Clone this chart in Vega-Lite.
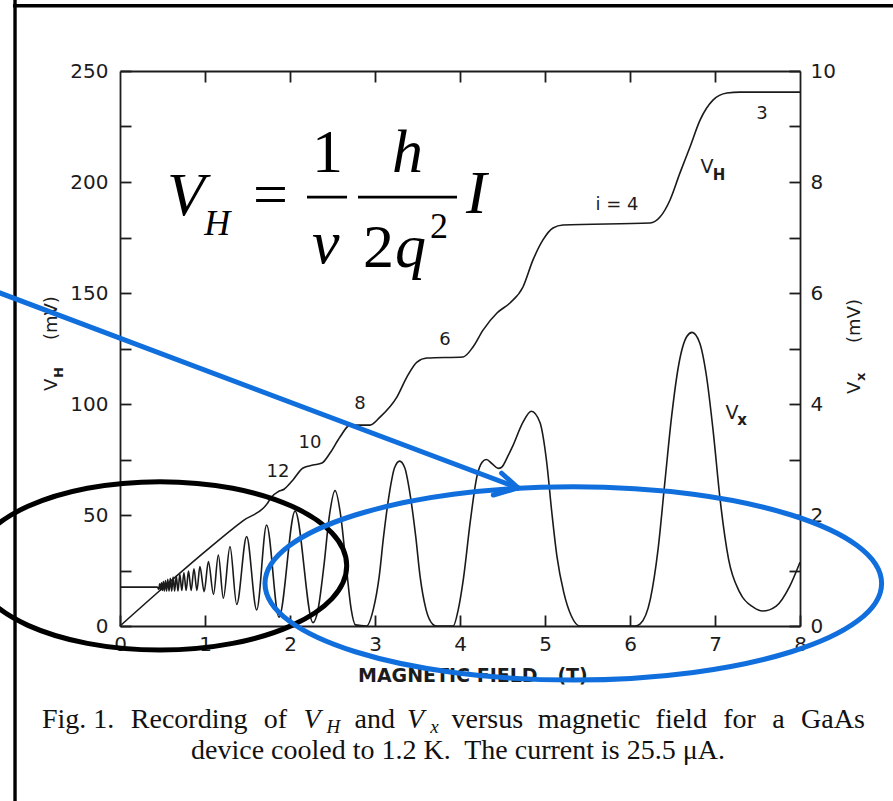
{
  "$schema": "https://vega.github.io/schema/vega-lite/v6.json",
  "width": 680,
  "height": 555,
  "autosize": {"type": "none"},
  "padding": {"left": 120, "top": 71, "right": 93, "bottom": 175},
  "background": "white",
  "config": {
    "view": {"stroke": null},
    "axis": {
      "grid": false,
      "domainColor": "#1c1c1c",
      "domainWidth": 1.8,
      "tickColor": "#1c1c1c",
      "tickWidth": 1.8,
      "tickSize": -11,
      "labelColor": "#1c1c1c",
      "labelFont": "DejaVu Sans",
      "labelFontSize": 20,
      "labelFlush": false,
      "labelOverlap": false,
      "labelBound": false
    }
  },
  "datasets": {
    "vh": [
      {"b": 0, "v": 0}, {"b": 0.5, "v": 17}, {"b": 1.0, "v": 33.5}, {"b": 1.45, "v": 47.5},
      {"b": 1.73, "v": 55}, {"b": 1.78, "v": 58}, {"b": 1.86, "v": 60.5}, {"b": 1.93, "v": 61.6},
      {"b": 2.035, "v": 65.8}, {"b": 2.153, "v": 71.2}, {"b": 2.271, "v": 72.5}, {"b": 2.376, "v": 73.4},
      {"b": 2.471, "v": 77.9}, {"b": 2.588, "v": 85.1}, {"b": 2.706, "v": 90.5}, {"b": 2.941, "v": 90.5},
      {"b": 3.059, "v": 94.1}, {"b": 3.259, "v": 103.2}, {"b": 3.376, "v": 112.2}, {"b": 3.494, "v": 118.9},
      {"b": 3.612, "v": 120.7}, {"b": 4.035, "v": 121.2}, {"b": 4.153, "v": 125.7}, {"b": 4.271, "v": 133.3},
      {"b": 4.435, "v": 141.0}, {"b": 4.588, "v": 145.5}, {"b": 4.741, "v": 152.7}, {"b": 4.859, "v": 164.9},
      {"b": 4.976, "v": 173.9}, {"b": 5.094, "v": 179.3}, {"b": 5.212, "v": 180.6}, {"b": 6.235, "v": 181.5},
      {"b": 6.353, "v": 184.2}, {"b": 6.471, "v": 191.9}, {"b": 6.588, "v": 204.1}, {"b": 6.706, "v": 215.8},
      {"b": 6.824, "v": 227.9}, {"b": 6.976, "v": 236.9}, {"b": 7.141, "v": 240.1}, {"b": 7.294, "v": 240.5},
      {"b": 8.0, "v": 240.5}
    ],
    "vx": [
      {"b": 0, "v": 0.70}, {"b": 0.3, "v": 0.70}, {"b": 0.44, "v": 0.70},
      {"b": 0.456, "v": 0.66}, {"b": 0.467, "v": 0.76}, {"b": 0.477, "v": 0.65}, {"b": 0.488, "v": 0.78},
      {"b": 0.499, "v": 0.64}, {"b": 0.51, "v": 0.80}, {"b": 0.522, "v": 0.63}, {"b": 0.535, "v": 0.82},
      {"b": 0.548, "v": 0.63}, {"b": 0.562, "v": 0.84}, {"b": 0.577, "v": 0.63}, {"b": 0.592, "v": 0.86},
      {"b": 0.608, "v": 0.63}, {"b": 0.625, "v": 0.88}, {"b": 0.643, "v": 0.63}, {"b": 0.662, "v": 0.90},
      {"b": 0.682, "v": 0.63}, {"b": 0.704, "v": 0.93}, {"b": 0.727, "v": 0.64}, {"b": 0.752, "v": 0.96},
      {"b": 0.778, "v": 0.64}, {"b": 0.806, "v": 0.99}, {"b": 0.837, "v": 0.64}, {"b": 0.87, "v": 1.03},
      {"b": 0.905, "v": 0.64}, {"b": 0.94, "v": 1.07}, {"b": 0.99, "v": 0.62}, {"b": 1.04, "v": 1.16},
      {"b": 1.1, "v": 0.57}, {"b": 1.157, "v": 1.28}, {"b": 1.216, "v": 0.50}, {"b": 1.294, "v": 1.43},
      {"b": 1.373, "v": 0.39}, {"b": 1.49, "v": 1.61}, {"b": 1.608, "v": 0.29}, {"b": 1.725, "v": 1.82},
      {"b": 1.87, "v": 0.16}, {"b": 2.06, "v": 2.07}, {"b": 2.27, "v": 0.06},
      {"b": 2.33, "v": 0.3}, {"b": 2.4, "v": 1.1}, {"b": 2.46, "v": 1.95}, {"b": 2.53, "v": 2.44},
      {"b": 2.6, "v": 1.95}, {"b": 2.66, "v": 1.1}, {"b": 2.72, "v": 0.3}, {"b": 2.77, "v": 0.02},
      {"b": 2.9, "v": 0.0}, {"b": 2.98, "v": 0.3}, {"b": 3.05, "v": 0.9}, {"b": 3.1, "v": 1.6},
      {"b": 3.17, "v": 2.4}, {"b": 3.23, "v": 2.85}, {"b": 3.29, "v": 2.97}, {"b": 3.35, "v": 2.85},
      {"b": 3.41, "v": 2.4}, {"b": 3.48, "v": 1.6}, {"b": 3.53, "v": 0.9}, {"b": 3.6, "v": 0.3},
      {"b": 3.68, "v": 0.03}, {"b": 3.72, "v": 0.0}, {"b": 3.92, "v": 0.0}, {"b": 3.98, "v": 0.3},
      {"b": 4.04, "v": 0.85}, {"b": 4.12, "v": 1.87}, {"b": 4.2, "v": 2.7}, {"b": 4.26, "v": 2.95},
      {"b": 4.31, "v": 3.0}, {"b": 4.38, "v": 2.92}, {"b": 4.45, "v": 2.84}, {"b": 4.49, "v": 2.86},
      {"b": 4.56, "v": 3.05}, {"b": 4.62, "v": 3.24}, {"b": 4.74, "v": 3.67}, {"b": 4.84, "v": 3.87},
      {"b": 4.94, "v": 3.67}, {"b": 5.02, "v": 2.95}, {"b": 5.08, "v": 2.05}, {"b": 5.14, "v": 1.26},
      {"b": 5.22, "v": 0.61}, {"b": 5.31, "v": 0.18}, {"b": 5.41, "v": 0.0}, {"b": 6.06, "v": 0.0},
      {"b": 6.12, "v": 0.04}, {"b": 6.24, "v": 0.49}, {"b": 6.33, "v": 1.38}, {"b": 6.41, "v": 2.59},
      {"b": 6.49, "v": 3.78}, {"b": 6.57, "v": 4.68}, {"b": 6.67, "v": 5.22}, {"b": 6.73, "v": 5.29},
      {"b": 6.82, "v": 5.1}, {"b": 6.9, "v": 4.5}, {"b": 6.98, "v": 3.49}, {"b": 7.06, "v": 2.28},
      {"b": 7.16, "v": 1.2}, {"b": 7.29, "v": 0.61}, {"b": 7.45, "v": 0.34}, {"b": 7.56, "v": 0.27},
      {"b": 7.72, "v": 0.36}, {"b": 7.88, "v": 0.72}, {"b": 8.0, "v": 1.15}
    ],
    "plateauLabels": [
      {"b": 1.859, "v": 69.4, "t": "12"},
      {"b": 2.235, "v": 82.4, "t": "10"},
      {"b": 2.824, "v": 100, "t": "8"},
      {"b": 3.824, "v": 128.8, "t": "6"},
      {"b": 5.847, "v": 189.6, "t": "i = 4"},
      {"b": 7.553, "v": 230.6, "t": "3"}
    ],
    "curveNames": [
      {"b": 6.906, "v": 206.8, "t": "V"},
      {"b": 7.2, "v": 95.9, "t": "V"}
    ],
    "curveNameSubs": [
      {"b": 7.047, "v": 203.2, "t": "H"},
      {"b": 7.318, "v": 92.8, "t": "x"}
    ],
    "yTitles": [
      {"b": -0.741, "v": 105.9, "t": "V"},
      {"b": -0.741, "v": 128.8, "t": "(mV)"},
      {"b": 8.706, "v": 104.5, "t": "V"},
      {"b": 8.706, "v": 127.5, "t": "(mV)"}
    ],
    "yTitleSubs": [
      {"b": -0.671, "v": 111.7, "t": "H"},
      {"b": 8.765, "v": 110.4, "t": "x"}
    ],
    "xTitle": [
      {"b": 2.8, "v": -25.2, "t": "MAGNETIC FIELD\u00a0\u00a0\u00a0(T)"}
    ],
    "eqItalic": [
      {"b": 0.553, "v": 185.1, "t": "V"},
      {"b": 2.259, "v": 163.5, "t": "ν"},
      {"b": 3.2, "v": 204.5, "t": "h"},
      {"b": 3.235, "v": 161.7, "t": "q"},
      {"b": 4.071, "v": 186.0, "t": "I"}
    ],
    "eqUpright": [
      {"b": 1.565, "v": 185.1, "t": "="},
      {"b": 2.259, "v": 204.5, "t": "1"},
      {"b": 2.859, "v": 161.7, "t": "2"}
    ],
    "eqSub": [{"b": 0.99, "v": 176.1, "t": "H"}],
    "eqSup": [{"b": 3.647, "v": 174.8, "t": "2"}],
    "eqBars": [
      {"b": 2.2, "b2": 2.671, "v": 193.2},
      {"b": 2.8, "b2": 3.965, "v": 193.2}
    ],
    "frame": [
      {"b": -1.235, "v": 284.2, "b2": -1.235, "v2": -81.1},
      {"b": -1.259, "v": 279.4, "b2": 9.2, "v2": 279.4}
    ],
    "arrow": [
      {"b": -1.765, "v": 155.1, "b2": 4.682, "v2": 62.2},
      {"b": 4.49, "v": 68.8, "b2": 4.682, "v2": 62.2},
      {"b": 4.392, "v": 59.0, "b2": 4.682, "v2": 62.2}
    ],
    "lowFieldRing": [{"b": 0.4706, "v": 27.1}],
    "highFieldRing": [{"b": 5.333, "v": 19.2}],
    "captionText": [
      {"b": -0.918, "v": -45.95, "t": "Fig. 1."},
      {"b": 0.127, "v": -45.95, "t": "Recording"},
      {"b": 1.691, "v": -45.95, "t": "of"},
      {"b": 2.76, "v": -45.95, "t": "and"},
      {"b": 3.9, "v": -45.95, "t": "versus"},
      {"b": 4.915, "v": -45.95, "t": "magnetic"},
      {"b": 6.301, "v": -45.95, "t": "field"},
      {"b": 7.096, "v": -45.95, "t": "for"},
      {"b": 7.673, "v": -45.95, "t": "a"},
      {"b": 8.012, "v": -45.95, "t": "GaAs"}
    ],
    "captionLine2": [
      {"b": 3.976, "v": -59.9, "t": "device cooled to 1.2 K.\u00a0 The current is 25.5 μA."}
    ],
    "captionItalic": [
      {"b": 2.158, "v": -45.95, "t": "V"},
      {"b": 3.375, "v": -45.95, "t": "V"}
    ],
    "captionSub": [
      {"b": 2.43, "v": -48.2, "t": "H"},
      {"b": 3.65, "v": -48.2, "t": "x"}
    ]
  },
  "resolve": {"scale": {"y": "independent"}, "axis": {"x": "independent"}},
  "layer": [
    {
      "data": {"name": "frame"},
      "mark": {"type": "rule", "color": "#000000", "strokeWidth": 3.4},
      "encoding": {
        "x": {"field": "b", "type": "quantitative", "scale": {"domain": [0, 8], "nice": false, "zero": false}, "axis": null},
        "x2": {"field": "b2"},
        "y": {"field": "v", "type": "quantitative", "scale": {"domain": [0, 250], "nice": false}, "axis": null},
        "y2": {"field": "v2"}
      }
    },
    {
      "data": {"name": "vh"},
      "mark": {"type": "line", "color": "#1a1a1a", "strokeWidth": 1.6, "interpolate": "monotone"},
      "encoding": {
        "x": {
          "field": "b", "type": "quantitative",
          "scale": {"domain": [0, 8], "nice": false, "zero": false},
          "axis": {"orient": "bottom", "values": [0, 1, 2, 3, 4, 5, 6, 7, 8], "title": null, "labelPadding": 19}
        },
        "y": {
          "field": "v", "type": "quantitative",
          "scale": {"domain": [0, 250], "nice": false},
          "axis": {
            "orient": "left",
            "values": [0, 25, 50, 75, 100, 125, 150, 175, 200, 225, 250],
            "labelExpr": "datum.value % 50 === 0 ? datum.label : ''",
            "title": null,
            "labelPadding": 23
          }
        }
      }
    },
    {
      "data": {"name": "vx"},
      "mark": {"type": "line", "color": "#1a1a1a", "strokeWidth": 1.6, "interpolate": "monotone"},
      "encoding": {
        "x": {
          "field": "b", "type": "quantitative",
          "scale": {"domain": [0, 8], "nice": false, "zero": false},
          "axis": {"orient": "top", "values": [1, 2, 3, 4, 5, 6, 7], "labels": false, "title": null}
        },
        "y": {
          "field": "v", "type": "quantitative",
          "scale": {"domain": [0, 10], "nice": false},
          "axis": {
            "orient": "right",
            "values": [0, 1, 2, 3, 4, 5, 6, 7, 8, 9, 10],
            "labelExpr": "datum.value % 2 === 0 ? datum.label : ''",
            "title": null,
            "labelPadding": 21
          }
        }
      }
    },
    {
      "data": {"name": "plateauLabels"},
      "mark": {"type": "text", "font": "DejaVu Sans", "fontSize": 18, "color": "#1c1c1c", "align": "center", "baseline": "middle"},
      "encoding": {
        "x": {"field": "b", "type": "quantitative", "scale": {"domain": [0, 8], "nice": false, "zero": false}, "axis": null},
        "y": {"field": "v", "type": "quantitative", "scale": {"domain": [0, 250], "nice": false}, "axis": null},
        "text": {"field": "t"}
      }
    },
    {
      "data": {"name": "curveNames"},
      "mark": {"type": "text", "font": "DejaVu Sans", "fontSize": 19, "color": "#1c1c1c", "align": "center", "baseline": "middle"},
      "encoding": {
        "x": {"field": "b", "type": "quantitative", "scale": {"domain": [0, 8], "nice": false, "zero": false}, "axis": null},
        "y": {"field": "v", "type": "quantitative", "scale": {"domain": [0, 250], "nice": false}, "axis": null},
        "text": {"field": "t"}
      }
    },
    {
      "data": {"name": "curveNameSubs"},
      "mark": {"type": "text", "font": "DejaVu Sans", "fontSize": 15, "fontWeight": "bold", "color": "#1c1c1c", "align": "center", "baseline": "middle"},
      "encoding": {
        "x": {"field": "b", "type": "quantitative", "scale": {"domain": [0, 8], "nice": false, "zero": false}, "axis": null},
        "y": {"field": "v", "type": "quantitative", "scale": {"domain": [0, 250], "nice": false}, "axis": null},
        "text": {"field": "t"}
      }
    },
    {
      "data": {"name": "yTitles"},
      "mark": {"type": "text", "font": "DejaVu Sans", "fontSize": 18, "color": "#1c1c1c", "align": "left", "baseline": "alphabetic", "angle": 270},
      "encoding": {
        "x": {"field": "b", "type": "quantitative", "scale": {"domain": [0, 8], "nice": false, "zero": false}, "axis": null},
        "y": {"field": "v", "type": "quantitative", "scale": {"domain": [0, 250], "nice": false}, "axis": null},
        "text": {"field": "t"}
      }
    },
    {
      "data": {"name": "yTitleSubs"},
      "mark": {"type": "text", "font": "DejaVu Sans", "fontSize": 13, "fontWeight": "bold", "color": "#1c1c1c", "align": "left", "baseline": "alphabetic", "angle": 270},
      "encoding": {
        "x": {"field": "b", "type": "quantitative", "scale": {"domain": [0, 8], "nice": false, "zero": false}, "axis": null},
        "y": {"field": "v", "type": "quantitative", "scale": {"domain": [0, 250], "nice": false}, "axis": null},
        "text": {"field": "t"}
      }
    },
    {
      "data": {"name": "xTitle"},
      "mark": {"type": "text", "font": "DejaVu Sans", "fontSize": 19, "fontWeight": "bold", "color": "#1c1c1c", "align": "left", "baseline": "alphabetic"},
      "encoding": {
        "x": {"field": "b", "type": "quantitative", "scale": {"domain": [0, 8], "nice": false, "zero": false}, "axis": null},
        "y": {"field": "v", "type": "quantitative", "scale": {"domain": [0, 250], "nice": false}, "axis": null},
        "text": {"field": "t"}
      }
    },
    {
      "data": {"name": "eqItalic"},
      "mark": {"type": "text", "font": "Liberation Serif", "fontSize": 62, "fontStyle": "italic", "color": "#000000", "align": "left", "baseline": "alphabetic"},
      "encoding": {
        "x": {"field": "b", "type": "quantitative", "scale": {"domain": [0, 8], "nice": false, "zero": false}, "axis": null},
        "y": {"field": "v", "type": "quantitative", "scale": {"domain": [0, 250], "nice": false}, "axis": null},
        "text": {"field": "t"}
      }
    },
    {
      "data": {"name": "eqUpright"},
      "mark": {"type": "text", "font": "Liberation Serif", "fontSize": 62, "color": "#000000", "align": "left", "baseline": "alphabetic"},
      "encoding": {
        "x": {"field": "b", "type": "quantitative", "scale": {"domain": [0, 8], "nice": false, "zero": false}, "axis": null},
        "y": {"field": "v", "type": "quantitative", "scale": {"domain": [0, 250], "nice": false}, "axis": null},
        "text": {"field": "t"}
      }
    },
    {
      "data": {"name": "eqSub"},
      "mark": {"type": "text", "font": "Liberation Serif", "fontSize": 36, "fontStyle": "italic", "color": "#000000", "align": "left", "baseline": "alphabetic"},
      "encoding": {
        "x": {"field": "b", "type": "quantitative", "scale": {"domain": [0, 8], "nice": false, "zero": false}, "axis": null},
        "y": {"field": "v", "type": "quantitative", "scale": {"domain": [0, 250], "nice": false}, "axis": null},
        "text": {"field": "t"}
      }
    },
    {
      "data": {"name": "eqSup"},
      "mark": {"type": "text", "font": "Liberation Serif", "fontSize": 36, "color": "#000000", "align": "left", "baseline": "alphabetic"},
      "encoding": {
        "x": {"field": "b", "type": "quantitative", "scale": {"domain": [0, 8], "nice": false, "zero": false}, "axis": null},
        "y": {"field": "v", "type": "quantitative", "scale": {"domain": [0, 250], "nice": false}, "axis": null},
        "text": {"field": "t"}
      }
    },
    {
      "data": {"name": "eqBars"},
      "mark": {"type": "rule", "color": "#000000", "strokeWidth": 2.6},
      "encoding": {
        "x": {"field": "b", "type": "quantitative", "scale": {"domain": [0, 8], "nice": false, "zero": false}, "axis": null},
        "x2": {"field": "b2"},
        "y": {"field": "v", "type": "quantitative", "scale": {"domain": [0, 250], "nice": false}, "axis": null}
      }
    },
    {
      "data": {"name": "captionText"},
      "mark": {"type": "text", "font": "Liberation Serif", "fontSize": 28, "color": "#111111", "align": "left", "baseline": "alphabetic"},
      "encoding": {
        "x": {"field": "b", "type": "quantitative", "scale": {"domain": [0, 8], "nice": false, "zero": false}, "axis": null},
        "y": {"field": "v", "type": "quantitative", "scale": {"domain": [0, 250], "nice": false}, "axis": null},
        "text": {"field": "t"}
      }
    },
    {
      "data": {"name": "captionLine2"},
      "mark": {"type": "text", "font": "Liberation Serif", "fontSize": 28, "color": "#111111", "align": "center", "baseline": "alphabetic"},
      "encoding": {
        "x": {"field": "b", "type": "quantitative", "scale": {"domain": [0, 8], "nice": false, "zero": false}, "axis": null},
        "y": {"field": "v", "type": "quantitative", "scale": {"domain": [0, 250], "nice": false}, "axis": null},
        "text": {"field": "t"}
      }
    },
    {
      "data": {"name": "captionItalic"},
      "mark": {"type": "text", "font": "Liberation Serif", "fontSize": 28, "fontStyle": "italic", "color": "#111111", "align": "left", "baseline": "alphabetic"},
      "encoding": {
        "x": {"field": "b", "type": "quantitative", "scale": {"domain": [0, 8], "nice": false, "zero": false}, "axis": null},
        "y": {"field": "v", "type": "quantitative", "scale": {"domain": [0, 250], "nice": false}, "axis": null},
        "text": {"field": "t"}
      }
    },
    {
      "data": {"name": "captionSub"},
      "mark": {"type": "text", "font": "Liberation Serif", "fontSize": 19, "fontStyle": "italic", "color": "#111111", "align": "left", "baseline": "alphabetic"},
      "encoding": {
        "x": {"field": "b", "type": "quantitative", "scale": {"domain": [0, 8], "nice": false, "zero": false}, "axis": null},
        "y": {"field": "v", "type": "quantitative", "scale": {"domain": [0, 250], "nice": false}, "axis": null},
        "text": {"field": "t"}
      }
    },
    {
      "data": {"name": "lowFieldRing"},
      "mark": {
        "type": "point",
        "shape": "M-1,0C-1,-0.249,-0.5523,-0.4509,0,-0.4509C0.5523,-0.4509,1,-0.249,1,0C1,0.249,0.5523,0.4509,0,0.4509C-0.5523,0.4509,-1,0.249,-1,0Z",
        "size": 139428,
        "filled": false,
        "stroke": "#000000",
        "strokeWidth": 5,
        "opacity": 1
      },
      "encoding": {
        "x": {"field": "b", "type": "quantitative", "scale": {"domain": [0, 8], "nice": false, "zero": false}, "axis": null},
        "y": {"field": "v", "type": "quantitative", "scale": {"domain": [0, 250], "nice": false}, "axis": null}
      }
    },
    {
      "data": {"name": "highFieldRing"},
      "mark": {
        "type": "point",
        "shape": "M-1,0C-1,-0.1732,-0.5523,-0.3137,0,-0.3137C0.5523,-0.3137,1,-0.1732,1,0C1,0.1732,0.5523,0.3137,0,0.3137C-0.5523,0.3137,-1,0.1732,-1,0Z",
        "size": 380196,
        "filled": false,
        "stroke": "#106fdc",
        "strokeWidth": 5,
        "opacity": 1
      },
      "encoding": {
        "x": {"field": "b", "type": "quantitative", "scale": {"domain": [0, 8], "nice": false, "zero": false}, "axis": null},
        "y": {"field": "v", "type": "quantitative", "scale": {"domain": [0, 250], "nice": false}, "axis": null}
      }
    },
    {
      "data": {"name": "arrow"},
      "mark": {"type": "rule", "color": "#106fdc", "strokeWidth": 5, "strokeCap": "round"},
      "encoding": {
        "x": {"field": "b", "type": "quantitative", "scale": {"domain": [0, 8], "nice": false, "zero": false}, "axis": null},
        "x2": {"field": "b2"},
        "y": {"field": "v", "type": "quantitative", "scale": {"domain": [0, 250], "nice": false}, "axis": null},
        "y2": {"field": "v2"}
      }
    }
  ]
}
